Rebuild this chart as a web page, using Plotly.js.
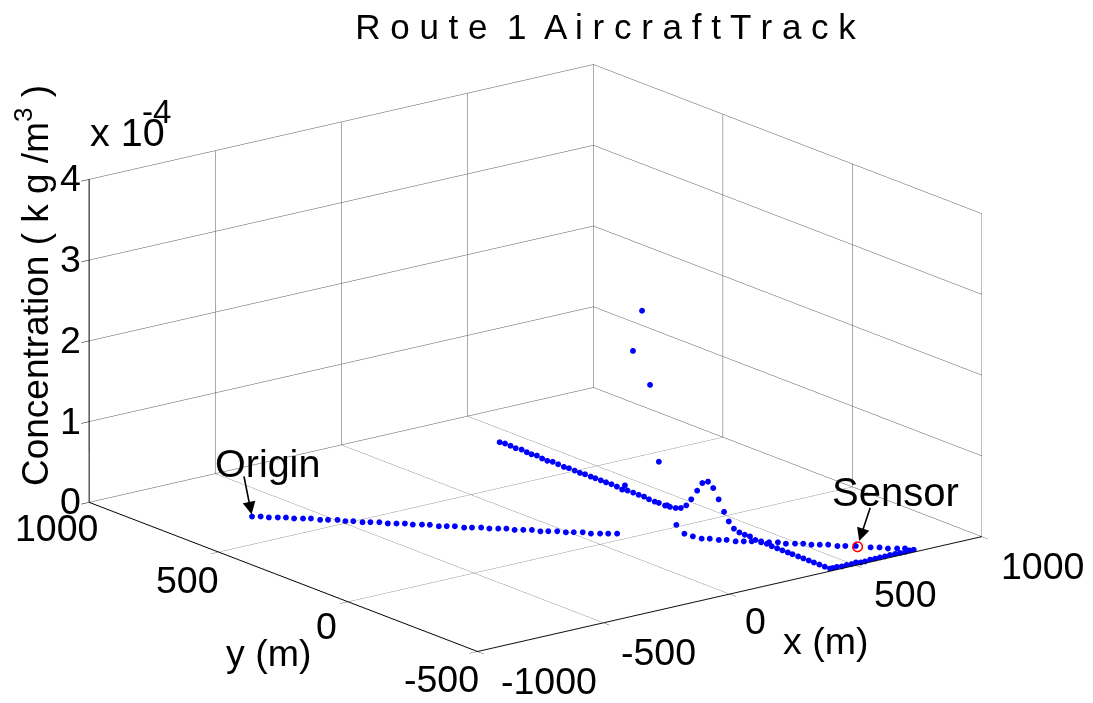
<!DOCTYPE html>
<html><head><meta charset="utf-8">
<script src="https://cdn.plot.ly/plotly-3.0.0.min.js"></script>
<style>html,body{margin:0;padding:0;background:#fff}#c{width:1093px;height:703px}</style>
</head><body><div id="c"></div>
<script>
// Outbound leg from the origin
const leg1X=[-686,-664,-650,-628,-608,-594,-572,-552,-538,-518,-495,-484,-464,-448,-428,-406,-393,-372,-351,-338,-315,-297,-284,-264,-244,-230,-210,-187,-173,-151,-131,-119,-97,-76,-64,-44,-22,-7,13,35,47,70,90,112];
const leg1Y=[677,665,647,634,622,604,591,580,558,547,533,513,502,482,471,458,438,425,413,395,382,369,347,336,324,302,291,278,260,247,235,215,203,190,169,158,145,126,115,102,82,69,57,44];
// Straight pass along x = 415 with the concentration peak
const leg2X=[412,417,416,413,419,415,413,418,412,410,417,415,412,416,415,413,417,416,417,417,417,418,416,410,417,418,417,419,414,413,415,413,417,415,415,415,415,415,415,415,415,415,415,415,415,415,415,415,415,415,415,415,415,415,415,415,415,415,415,415,415,415,415,415];
const leg2Y=[790,774,752,729,712,688,668,652,626,604,590,567,542,526,503,481,465,442,425,404,384,364,341,315,301,280,258,239,215,192,178,152,137,146,113,93,72,53,30,10,-12,-32,-53,-74,-92,-112,-133,-154,-174,-195,-217,-239,-258,-279,-299,-320,-338,-360,-380,-401,-421,-442,-463,-483];
const leg2Z=[0,0,0,0,0,0,0,0,0,0,0,0,0,0,0,0,0,0,0,0,0,0,0,0,0,0,0,0,0,0,0,0,0,0.01,0.017,0.042,0.10,0.198,0.334,0.453,0.497,0.443,0.328,0.20,0.103,0.038,0.017,0.015,0.019,0,0.01,0.007,0,0,0,0,0,0,0,0,0,0,0,0];
// Run along the front edge
const leg3X=[426,443,459,480,499,520,532,549,573,592,612,631,653,672,691,710,731];
const leg3Y=[-483,-482,-486,-484,-485,-481,-488,-488,-484,-485,-484,-485,-483,-484,-485,-486,-482];
// Return pass
const leg4X=[316,279,283,290,310,324,344,357,377,397,414,434,456,467,490,510,524,545,566,580,600,626,654,676,690,713,733,746];
const leg4Y=[14,-53,-82,-109,-121,-142,-153,-175,-187,-198,-218,-229,-242,-262,-275,-287,-305,-317,-329,-351,-362,-377,-407,-420,-439,-452,-463,-484];
// Isolated high readings
const spikeX=[415,415,415,415,415];
const spikeY=[243,278,212,178,309];
const spikeZ=[2.30,1.76,1.42,0.51,0.056];
const sensorX=[625], sensorY=[-384], sensorZ=[0];
const xTicks=[-1000,-500,0,500,1000];
const yTicks=[-500,0,500,1000];
const zTicks=[0,1,2,3,4];

const zeros=a=>a.map(()=>0);
const allX=[].concat(leg1X,leg2X,leg3X,leg4X,spikeX);
const allY=[].concat(leg1Y,leg2Y,leg3Y,leg4Y,spikeY);
const allZ=[].concat(zeros(leg1X),leg2Z,zeros(leg3X),zeros(leg4X),spikeZ);

const FS=37.5, FF='Arial, "Liberation Sans", sans-serif';
const fontOf=size=>({font:{family:FF,size,color:'#000'}});
const label=(x,y,z,text,xshift,yshift,extra)=>Object.assign({x,y,z,text,xshift,yshift,showarrow:false,
  font:{family:FF,size:FS,color:'#000'},xanchor:'center',yanchor:'middle'},extra||{});
const xShift=[71,55,26,50,61], yShiftX=[30,29,27,29,29];
const yLabelShiftX=[-36,-22,-31,-33], yLabelShiftY=[28,24,28,26];
const anns=[];
xTicks.forEach((v,i)=>anns.push(label(v,-500,0,String(v),xShift[i],-yShiftX[i])));
yTicks.forEach((v,i)=>anns.push(label(-1000,v,0,String(v),yLabelShiftX[i],-yLabelShiftY[i])));
zTicks.forEach(v=>anns.push(label(-1000,1000,v,String(v),-19,1)));

const axis=(range,dtick)=>({range,autorange:false,tick0:range[0],dtick,showticklabels:false,ticks:'outside',ticklen:10,tickcolor:'#000',tickwidth:1,
  showgrid:true,gridcolor:'#555555',gridwidth:1,showline:true,linecolor:'#000',linewidth:2,zeroline:false,showbackground:false,showspikes:false,title:{text:''}});

const data=[
 {type:'scatter3d',mode:'markers',x:allX,y:allY,z:allZ,marker:{color:'#0000ff',size:3.4,line:{width:0}},hoverinfo:'skip'},
 {type:'scatter3d',mode:'markers',x:sensorX,y:sensorY,z:sensorZ,marker:{color:'#ff0000',size:6,symbol:'circle-open',line:{color:'#ff0000',width:1}},hoverinfo:'skip'}
];
const layout={
 width:1093,height:703,margin:{l:0,r:0,t:0,b:0},paper_bgcolor:'#fff',showlegend:false,
 title:{text:'R o u t e  1  A i r c r a f t T r a c k',font:{family:FF,size:35,color:'#000'},x:0.554,xanchor:'center',y:0.962,yanchor:'middle'},
 scene:{domain:{x:[0,0.9799],y:[0,0.9815]},
  aspectmode:'manual',aspectratio:{x:1.845,y:1.845,z:0.98},
  camera:{projection:{type:'orthographic'},up:{x:0,y:0,z:1},center:{x:0,y:0,z:0},eye:{x:-0.5827*1.3,y:-0.7567*1.3,z:0.2957*1.3}},
  xaxis:axis([-1000,1000],500),yaxis:axis([-500,1000],500),zaxis:axis([0,4],1),
  annotations:anns.concat([
   label(leg1X[0],leg1Y[0],0,'Origin',16,53,fontOf(39.5)),
   label(sensorX[0],sensorY[0],0,'Sensor',38,55,fontOf(40)),
   {x:leg1X[0],y:leg1Y[0],z:0,text:' ',showarrow:true,ax:-10,ay:-50,arrowhead:2,arrowsize:1.6,arrowwidth:1.6,arrowcolor:'#000',standoff:2},
   {x:sensorX[0],y:sensorY[0],z:0,text:' ',showarrow:true,ax:16,ay:-48,arrowhead:2,arrowsize:1.6,arrowwidth:1.6,arrowcolor:'#000',standoff:6},
   label(-1000,1000,4,'x 10',38,47,fontOf(39.5)),
   label(-1000,1000,4,'-4',67,68,fontOf(33)),
   label(-1000,-500,0,'y (m)',-209,-2),
   label(1000,-500,0,'x (m)',-156,-104),
   label(-1000,1000,2,'Concentration ( k g /m<sup>3</sup> )',-56,55,Object.assign({textangle:-90},fontOf(37)))
  ])}
};
Plotly.newPlot('c',data,layout,{displayModeBar:false});
</script></body></html>
